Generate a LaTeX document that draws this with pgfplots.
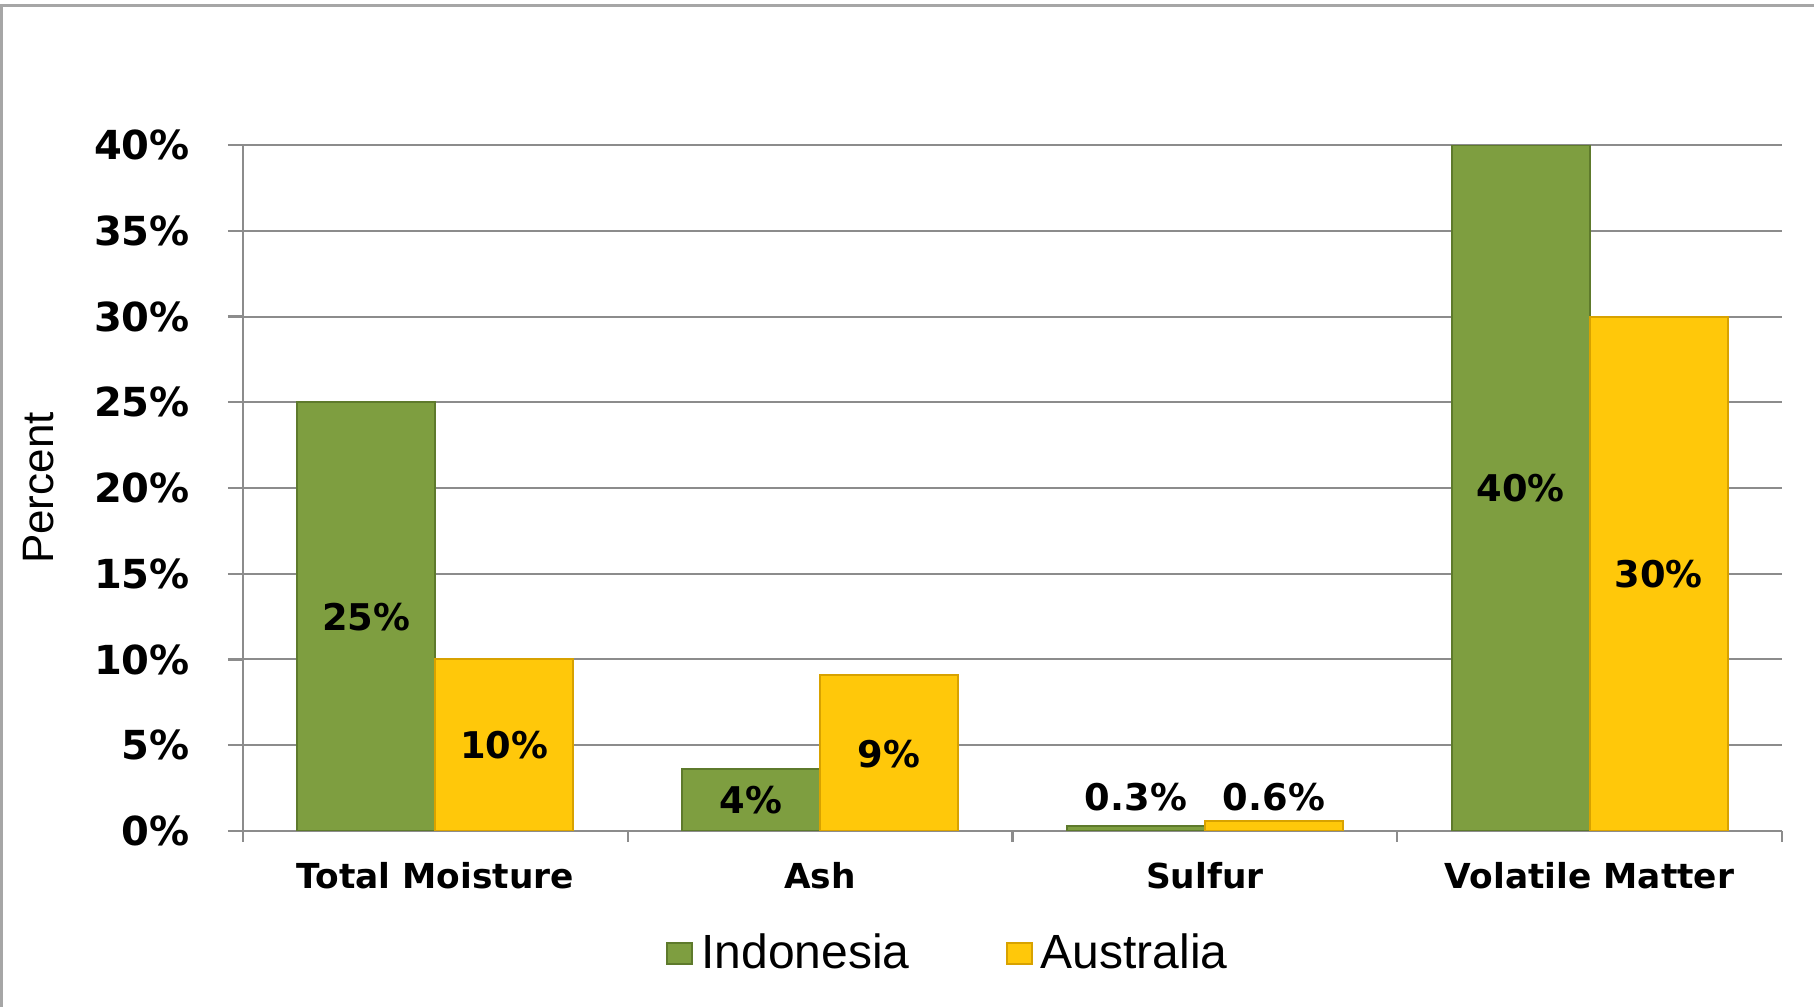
\documentclass[border=0pt]{standalone}
\usepackage{pgfplots}
\pgfplotsset{compat=1.18}
\usepackage{fontspec}
\setmainfont{Liberation Sans}
\newfontfamily\dvs{DejaVu Sans}
\definecolor{igreen}{HTML}{7E9E40}
\definecolor{igreenD}{HTML}{5E7A2C}
\definecolor{ayellow}{HTML}{FFC80A}
\definecolor{ayellowD}{HTML}{D8A200}
\definecolor{gridgray}{HTML}{8C8C8C}
\begin{document}
\begin{tikzpicture}
\useasboundingbox (0,0) rectangle (453.5pt,251.75pt);
\draw[gray!70, line width=0.8pt] (0.4pt,0) -- (0.4pt,250.3pt) -- (453.5pt,250.3pt);
\begin{axis}[
  at={(60.75pt,44pt)}, anchor=south west,
  width=384.75pt, height=171.5pt, scale only axis,
  xmin=-0.5, xmax=3.5, ymin=0, ymax=40,
  axis x line*=bottom, axis y line*=left,
  axis line style={gridgray, line width=0.6pt, -},
  ymajorgrids, major grid style={gridgray, line width=0.5pt},
  tick align=outside,
  xtick={0,1,2,3},
  xticklabels={Total Moisture, Ash, Sulfur, Volatile Matter},
  major x tick style={draw=none},
  minor xtick={-0.5,0.5,1.5,2.5,3.5},
  minor tick length=2.75pt,
  major tick length=3.75pt,
  tick style={gridgray, line width=0.6pt},
  ytick={0,5,...,40},
  yticklabel={\pgfmathprintnumber{\tick}\%},
  /pgf/number format/assume math mode=true,
  yticklabel style={font=\dvs\bfseries\fontsize{10}{12}\selectfont, xshift=-6pt},
  xticklabel style={font=\dvs\bfseries\fontsize{8.6}{10}\selectfont, anchor=north, yshift=-0.5pt},
  ylabel={Percent},
  every axis y label/.style={at={(axis description cs:-0.133,0.5)}, rotate=90, anchor=center, font=\fontsize{11}{13}\selectfont},
  legend style={draw=none, fill=none, at={(0.46,-0.18)}, anchor=center,
    font=\fontsize{12}{14}\selectfont,
    /tikz/every even column/.append style={column sep=22pt}},
  legend columns=2,
  legend image code/.code={\draw[#1] (0pt,-2.3pt) rectangle (6.3pt,2.9pt);},
  every node near coord/.append style={font=\dvs\bfseries\fontsize{9.2}{11}\selectfont, text=black},
]
\addplot[ybar, bar width=34.5pt, bar shift=-17.25pt, fill=igreen, draw=igreenD, line width=0.5pt]
  coordinates {(0,25) (1,3.6) (2,0.3) (3,40)};
\addlegendentry{Indonesia}
\addplot[ybar, bar width=34.5pt, bar shift=17.25pt, fill=ayellow, draw=ayellowD, line width=0.5pt]
  coordinates {(0,10) (1,9.1) (2,0.6) (3,30)};
\addlegendentry{Australia}
\addplot[draw=none, mark=none, forget plot,
  nodes near coords, point meta=explicit symbolic, nodes near coords align={center}]
  coordinates {(-0.1793,12.5)[25\%] (0.8207,1.8)[4\%] (1.8207,2.0)[0.3\%] (2.8207,20)[40\%]};
\addplot[draw=none, mark=none, forget plot,
  nodes near coords, point meta=explicit symbolic, nodes near coords align={center}]
  coordinates {(0.1793,5)[10\%] (1.1793,4.5)[9\%] (2.1793,2.0)[0.6\%] (3.1793,15)[30\%]};
\end{axis}
\end{tikzpicture}
\end{document}
